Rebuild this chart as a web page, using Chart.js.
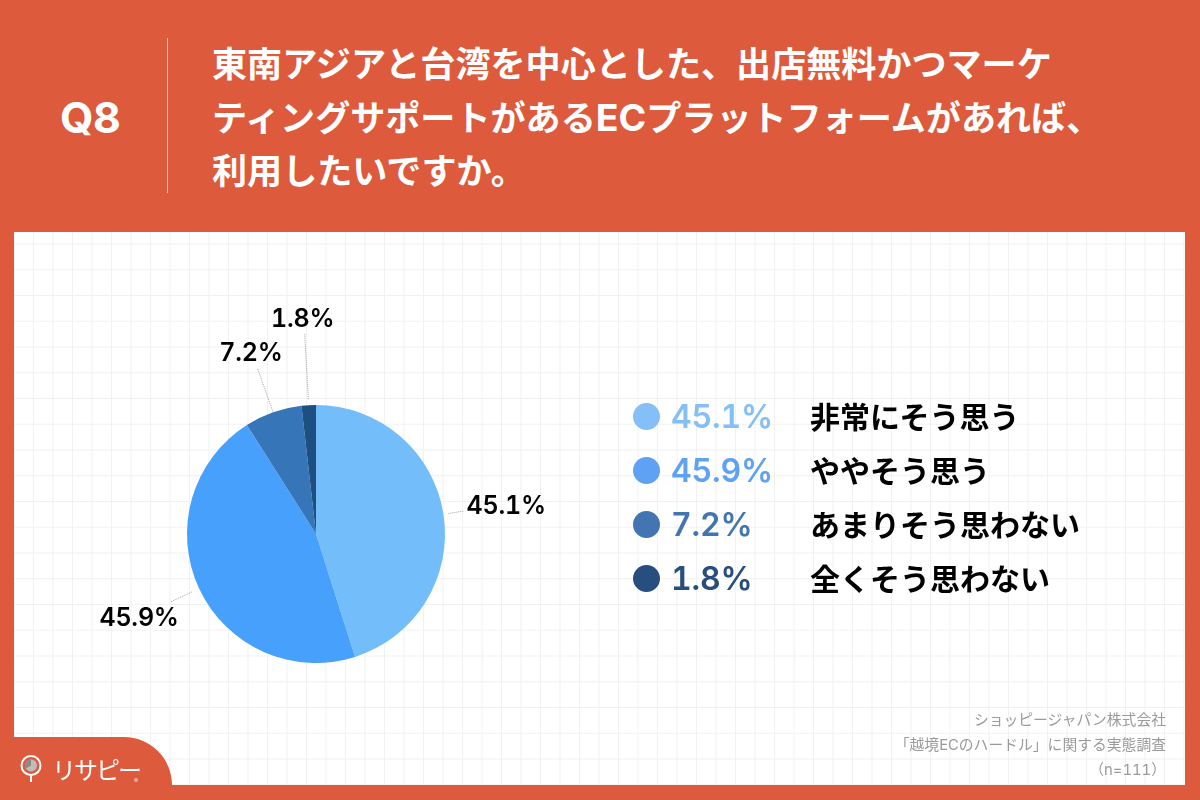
<!DOCTYPE html>
<html lang="ja">
<head>
<meta charset="utf-8">
<title>Q8</title>
<script src="https://cdn.jsdelivr.net/npm/chart.js@4/dist/chart.umd.min.js"></script>
<style>
  html, body { margin:0; padding:0; }
  body { width:1200px; height:800px; position:relative; overflow:hidden; background:#dd5a3c;
         font-family:Inter,"Noto Sans CJK JP",sans-serif; font-variant-numeric:tabular-nums; text-spacing-trim:space-all; }
  .abs { position:absolute; white-space:nowrap; }
  #panel { left:14px; top:232px; width:1171px; height:553px; background-color:#fff;
    background-image:
      linear-gradient(to right, #f1f1f1 1px, transparent 1px),
      linear-gradient(to bottom, #f1f1f1 1px, transparent 1px);
    background-size:19.5px 25.75px; background-position:-0.5px 11.5px; }
  #q { left:60px; top:89px; font-size:43px; line-height:56px; font-weight:700; color:#fff; letter-spacing:-0.5px; }
  #rule { left:167px; top:38px; width:1px; height:155px; background:#f2c4b8; }
  #title { left:212px; top:38px; font-size:35.1px; line-height:53px; font-weight:700; color:#fff; }
  #title span { font-size:37.5px; }
  #chart { position:absolute; left:0; top:0; }
  .dot { width:27px; height:27px; border-radius:50%; left:632.5px; }
  .val { left:671px; font-size:32px; line-height:40px; font-weight:600; letter-spacing:-0.2px; }
  .lab { left:810px; font-size:30px; line-height:40px; font-weight:700; color:#000; }
  .pct { font-size:25px; line-height:30px; font-weight:600; color:#000; letter-spacing:-0.2px; transform:translate(-50%,-50%); }
  #note { right:34px; top:708px; text-align:right; font-size:14.8px; line-height:25px; color:#9b9b9b; }
  #tab { left:14px; top:737px; width:158px; height:48px; background:#dd5a3c; border-top-right-radius:48px 48px; }
  #brand { left:52px; top:752px; font-size:24px; line-height:34px; letter-spacing:-2px; color:#fff; font-family:"Noto Sans CJK JP"; font-weight:400; }
</style>
</head>
<body>
<div class="abs" id="panel"></div>
<div class="abs" id="q">Q8</div>
<div class="abs" id="rule"></div>
<div class="abs" id="title">東南アジアと台湾を中心とした、出店無料かつマーケ<br>ティングサポートがある<span>EC</span>プラットフォームがあれば、<br>利用したいですか。</div>
<canvas id="chart" width="1200" height="800"></canvas>
<div id="pctLabels"></div>
<div id="legend"></div>
<div class="abs" id="note">ショッピージャパン株式会社<br>「越境ECのハードル」に関する実態調査<br>（n=111）</div>
<div class="abs" id="tab"></div>
<svg class="abs" style="left:18px;top:752px" width="26" height="32" viewBox="0 0 26 32">
  <circle cx="13" cy="13.5" r="9.5" fill="none" stroke="#fff" stroke-width="2"/>
  <circle cx="13" cy="13.5" r="6" fill="#bdbdbd"/>
  <path d="M13 13.5V7.5A6 6 0 0 0 7.8 16.5Z" fill="#8a8a8a"/>
  <path d="M13 24V30" stroke="#fff" stroke-width="2"/>
</svg>
<div class="abs" id="brand">リサピー</div>
<svg class="abs" style="left:132px;top:776px" width="8" height="8"><circle cx="4" cy="4" r="2" fill="#f0a898"/></svg>

<script>
// --- data
const categories = ["非常にそう思う", "ややそう思う", "あまりそう思わない", "全くそう思わない"];
const percents = [45.1, 45.9, 7.2, 1.8];
const sliceColors = ["#74bdfb", "#47a0fb", "#3575b8", "#1e4f82"];
const legendColors = ["#85bff8", "#5fa1f3", "#4375b3", "#284d7f"];

// leader lines: radius where they start / stop, then label offset from the stop
const leaderFrom = [134, 137, 130, 135];
const leaderTo = [149, 161, 176, 200];
const labelShift = [[43, -6], [-31, 15], [-6.5, -16], [-2, -16]];

// --- legend rows
const rowY = [417, 471, 525, 579];
document.getElementById("legend").innerHTML = categories.map((c, i) => `
  <div class="abs dot" style="top:${rowY[i] - 14}px;background:${legendColors[i]}"></div>
  <div class="abs val" style="top:${rowY[i] - 20}px;color:${legendColors[i]}">${percents[i]}%</div>
  <div class="abs lab" style="top:${rowY[i] - 20}px">${c}</div>`).join("");

// --- labels + dotted leaders around the pie
const leaderPlugin = {
  id: "leaders",
  afterDatasetsDraw(chart) {
    const ctx = chart.ctx;
    let html = "";
    chart.getDatasetMeta(0).data.forEach((arc, i) => {
      const mid = (arc.startAngle + arc.endAngle) / 2;
      const cos = Math.cos(mid), sin = Math.sin(mid);
      const x2 = arc.x + cos * leaderTo[i], y2 = arc.y + sin * leaderTo[i];
      ctx.save();
      ctx.strokeStyle = "#a0a0a0";
      ctx.lineWidth = 1;
      ctx.setLineDash([1, 1]);
      ctx.beginPath();
      ctx.moveTo(arc.x + cos * leaderFrom[i], arc.y + sin * leaderFrom[i]);
      ctx.lineTo(x2, y2);
      ctx.stroke();
      ctx.restore();
      html += `<div class="abs pct" style="left:${x2 + labelShift[i][0]}px;top:${y2 + labelShift[i][1]}px">${percents[i]}%</div>`;
    });
    document.getElementById("pctLabels").innerHTML = html;
  }
};

new Chart(document.getElementById("chart"), {
  type: "pie",
  data: {
    labels: categories,
    datasets: [{ data: percents, backgroundColor: sliceColors, borderWidth: 0 }]
  },
  options: {
    responsive: false,
    animation: false,
    layout: { padding: { left: 187, right: 755, top: 405, bottom: 137 } },
    plugins: { legend: { display: false }, tooltip: { enabled: false } }
  },
  plugins: [leaderPlugin]
});
</script>
</body>
</html>
